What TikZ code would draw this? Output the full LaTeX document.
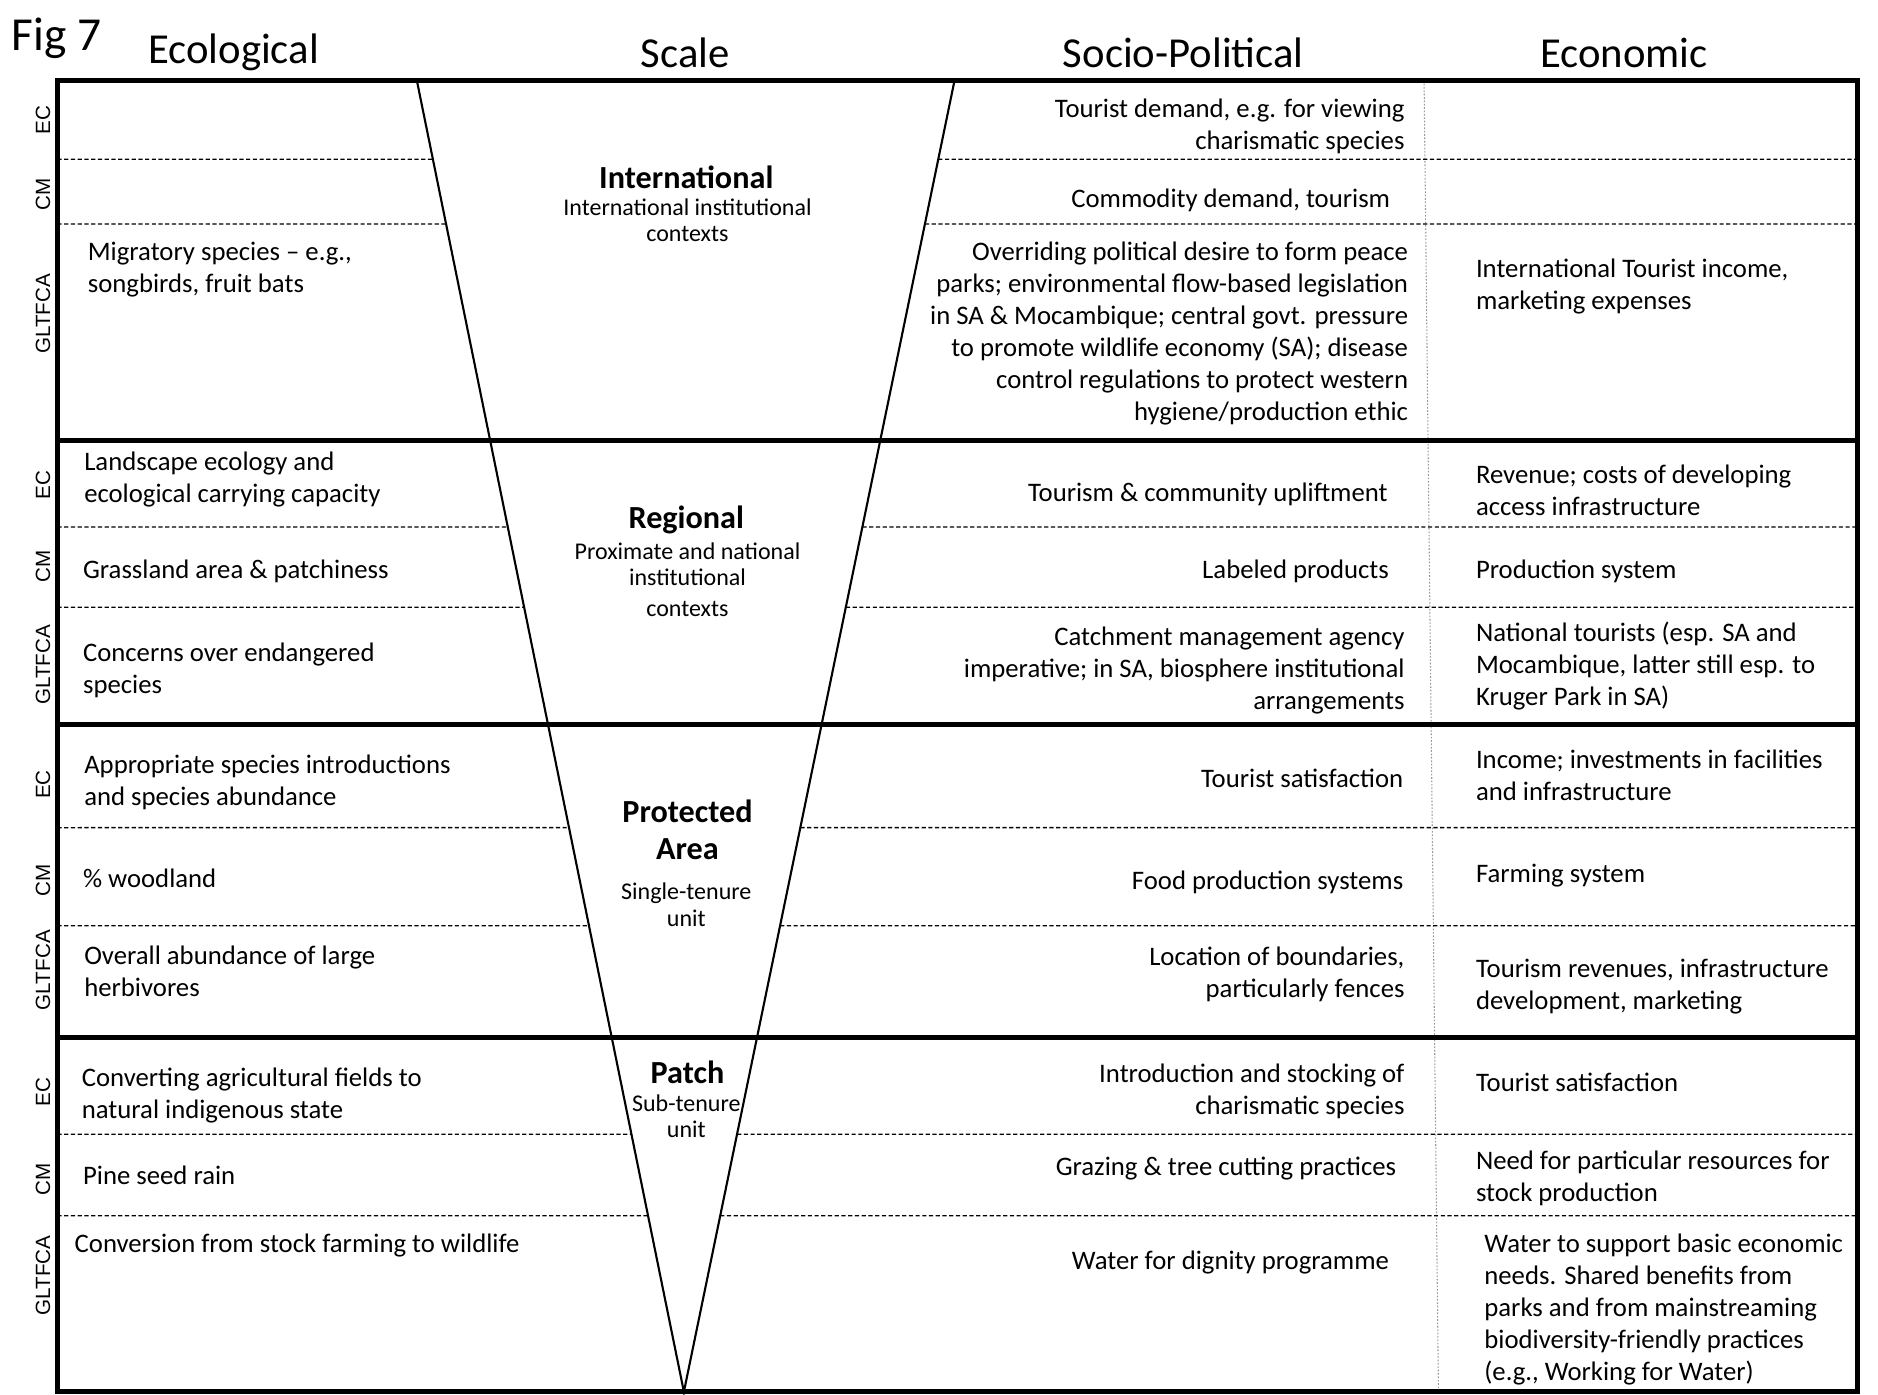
\documentclass[tikz,border=0pt]{standalone}
\usepackage{fontspec}
\setmainfont{Carlito}
\newfontfamily\sidefont{Liberation Sans}
\usetikzlibrary{calc}
\tikzset{
  outer/.style={line width=2.2pt},
  vline/.style={line width=1pt},
  dashline/.style={line width=0.6pt, dash pattern=on 2pt off 1.2pt},
  dotline/.style={line width=0.5pt, gray!80, dash pattern=on 0.8pt off 0.8pt},
  body/.style={font=\fontsize{12.7}{15.2}\selectfont, inner sep=0pt, yshift=-0.04cm},
  bodyl/.style={body, align=left, anchor=west},
  bodyr/.style={body, align=right, anchor=east},
  header/.style={font=\fontsize{20.3}{23}\selectfont, inner sep=0pt},
  scalebold/.style={font=\fontsize{15.3}{17.6}\selectfont\bfseries, inner sep=0pt, align=center},
  scalesub/.style={font=\fontsize{11.4}{12.5}\selectfont, inner sep=0pt, align=center},
  side/.style={font=\sidefont\fontsize{9.8}{11}\selectfont, rotate=90, inner sep=0pt}
}
\begin{document}
\begin{tikzpicture}[x=0.02cm,y=-0.02cm]
\useasboundingbox (0,0) rectangle (1568,1164);
\coordinate (TL) at (348,67);
\coordinate (TR) at (797,67);
\coordinate (apex) at (571,1162);
% vertical dotted separator
\coordinate (dt) at (1189,67);
\coordinate (db) at (1201,1162);
\draw[dotline] (dt) -- (db);
% dashed row separators
\foreach \yy in {133,187,440,507,691,773,947,1015}{
  \pgfmathsetmacro{\tt}{(\yy-67)/1095}
  \draw[dashline] (48,\yy) -- ($(TL)!\tt!(apex)$);
  \draw[dashline] ($(TR)!\tt!(apex)$) -- (1551,\yy);
}
% V
\draw[vline] (TL) -- (apex) -- (TR);
% thick lines
\foreach \yy in {368,605,866}{
  \draw[outer] (48,\yy) -- (1551,\yy);
}
\draw[outer] (48,67) rectangle (1551,1162);

% headers
\node[header, font=\fontsize{22.5}{25}\selectfont] (fig) at (47,32) {Fig 7};
\node[header] (hEco) at (195,44) {Ecological};
\node[header] (hSca) at (572,44) {Scale};
\node[header] (hSoc) at (988,44) {Socio-Political};
\node[header] (hEcn) at (1356,44) {Economic};

% side labels
\foreach \yy/\lab/\nm in {100/EC/a1,162/CM/a2,262/GLTFCA/a3,
                         405/EC/b1,473/CM/b2,555/GLTFCA/b3,
                         655/EC/c1,735/CM/c2,810/GLTFCA/c3,
                         912/EC/d1,985/CM/d2,1065/GLTFCA/d3}{
  \node[side] (side\nm) at (36,\yy) {\lab};
}

% scale labels
\node[scalebold] (intl) at (573,148) {International};
\node[scalesub] (intlsub) at (574,184) {International institutional\\contexts};
\node[scalebold] (reg) at (573,434) {Regional};
\node[scalesub] (regsub) at (574,484) {Proximate and national\\institutional\\[2pt]contexts};
\node[scalebold] (prot) at (574,692.5) {Protected\\Area};
\node[scalesub] (protsub) at (573,755.5) {Single-tenure\\unit};
\node[scalebold] (patch) at (574,895) {Patch};
\node[scalesub] (patchsub) at (573,932) {Sub-tenure\\unit};

% Ecological column
\node[bodyl] (e1) at (73,223.5) {Migratory species -- e.g.,\\songbirds, fruit bats};
\node[bodyl] (e2) at (70,398.5) {Landscape ecology and\\ecological carrying capacity};
\node[bodyl] (e3) at (69,475) {Grassland area \& patchiness};
\node[bodyl] (e4) at (69,557.5) {Concerns over endangered\\species};
\node[bodyl] (e5) at (70,651.5) {Appropriate species introductions\\and species abundance};
\node[bodyl] (e6) at (69,731) {\% woodland};
\node[bodyl] (e7) at (70,809) {Overall abundance of large\\herbivores};
\node[bodyl] (e8) at (68,912.5) {Converting agricultural fields to\\natural indigenous state};
\node[bodyl] (e9) at (69,979) {Pine seed rain};
\node[bodyl] (e10) at (62,1038) {Conversion from stock farming to wildlife};

% Socio-Political column
\node[bodyr] (s1) at (1173,103.5) {Tourist demand, e.g. for viewing\\charismatic species};
\node[bodyr] (s2) at (1161,165) {Commodity demand, tourism};
\node[bodyr] (s3) at (1176,276.5) {Overriding political desire to form peace\\parks; environmental flow-based legislation\\in SA \& Mocambique; central govt. pressure\\to promote wildlife economy (SA); disease\\control regulations to protect western\\hygiene/production ethic};
\node[bodyr] (s4) at (1159,411) {Tourism \& community upliftment};
\node[bodyr] (s5) at (1160,475) {Labeled products};
\node[bodyr] (s6) at (1173,557.5) {Catchment management agency\\imperative; in SA, biosphere institutional\\arrangements};
\node[bodyr] (s7) at (1172,648) {Tourist satisfaction};
\node[bodyr] (s8) at (1172,735) {Food production systems};
\node[bodyr] (s9) at (1173,811.5) {Location of boundaries,\\particularly fences};
\node[bodyr] (s10) at (1173,909) {Introduction and stocking of\\charismatic species};
\node[bodyr] (s11) at (1166,974) {Grazing \& tree cutting practices};
\node[bodyr] (s12) at (1160,1052) {Water for dignity programme};

% Economic column
\node[bodyl] (c1) at (1232,237) {International Tourist income,\\marketing expenses};
\node[bodyl] (c2) at (1232,407) {Revenue; costs of developing\\access infrastructure};
\node[bodyl] (c3) at (1232,475) {Production system};
\node[bodyl] (c4) at (1232,554) {National tourists (esp. SA and\\Mocambique, latter still esp. to\\Kruger Park in SA)};
\node[bodyl] (c5) at (1232,645) {Income; investments in facilities\\and infrastructure};
\node[bodyl] (c6) at (1232,729) {Farming system};
\node[bodyl] (c7) at (1232,821.5) {Tourism revenues, infrastructure\\development, marketing};
\node[bodyl] (c8) at (1232,902) {Tourist satisfaction};
\node[bodyl] (c9) at (1232,981.5) {Need for particular resources for\\stock production};
\node[bodyl] (c10) at (1239,1091.5) {Water to support basic economic\\needs. Shared benefits from\\parks and from mainstreaming\\biodiversity-friendly practices\\(e.g., Working for Water)};
\end{tikzpicture}
\end{document}
